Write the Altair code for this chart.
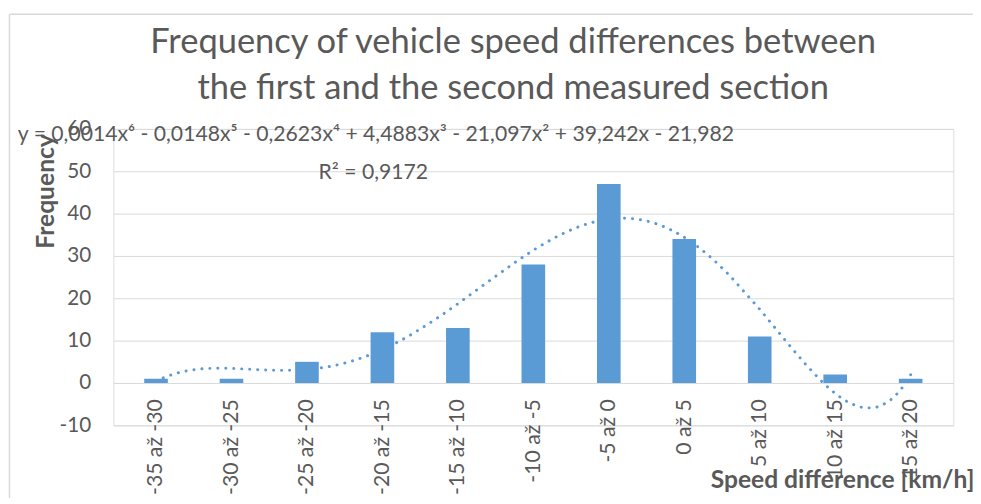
import altair as alt
import pandas as pd

labels = ["-35 až -30", "-30 až -25", "-25 až -20", "-20 až -15", "-15 až -10",
          "-10 až -5", "-5 až 0", "0 až 5", "5 až 10", "10 až 15", "15 až 20"]
freq = [1, 1, 5, 12, 13, 28, 47, 34, 11, 2, 1]
idx = list(range(1, len(labels) + 1))
y_ticks = [-10, 0, 10, 20, 30, 40, 50, 60]
title_lines = ["Frequency of vehicle speed differences between",
               "the first and the second measured section"]
equation = "y = 0,0014x⁶ - 0,0148x⁵ - 0,2623x⁴ + 4,4883x³ - 21,097x² + 39,242x - 21,982"
r2_text = "R² = 0,9172"

df = pd.DataFrame({"idx": idx, "label": labels, "freq": freq})

FONT = "Lato"
GRAY = "#595959"
BLUE = "#5B9BD5"

label_expr = "[" + ",".join("'" + l + "'" for l in labels) + "][datum.value - 1]"

x_enc = alt.X(
    "idx:Q",
    scale=alt.Scale(domain=[0.5, len(labels) + 0.5], nice=False, zero=False),
    axis=alt.Axis(
        values=idx, labelExpr=label_expr, labelAngle=270, offset=-43,
        ticks=False, grid=False, domainColor="#D9D9D9", domainWidth=1,
        labelPadding=16, labelFontSize=21.5, labelColor=GRAY, labelFont=FONT,
        labelOverlap=False, labelFlush=False, labelBound=False,
        title="Speed difference [km/h]", titleX=740, titleY=106,
        titleAlign="center", titleBaseline="alphabetic", titleFontSize=25,
        titleFontWeight="bold", titleColor=GRAY, titleFont=FONT,
    ),
)
y_enc = alt.Y(
    "freq:Q",
    scale=alt.Scale(domain=[-10, 60], nice=False),
    axis=alt.Axis(
        values=y_ticks, labelExpr="datum.value + ''", ticks=False, domain=False,
        gridColor="#D9D9D9",
        labelPadding=23, labelFontSize=21, labelColor=GRAY, labelFont=FONT,
        title="Frequency", titleX=-69, titleY=63, titleAngle=270,
        titleAlign="center", titleBaseline="middle", titleFontSize=25,
        titleFontWeight="bold", titleColor=GRAY, titleFont=FONT,
    ),
)

bars = alt.Chart(df).mark_bar(size=24, color=BLUE).encode(x=x_enc, y=y_enc)

trend = (
    alt.Chart(df)
    .transform_regression("idx", "freq", method="poly", order=6)
    .mark_line(color=BLUE, strokeWidth=3, strokeDash=[0.1, 8], strokeCap="round")
    .encode(x="idx:Q", y="freq:Q")
)

one = pd.DataFrame({"a": [0]})

title = alt.Chart(one).mark_text(
    text=title_lines, font=FONT, fontSize=35, color=GRAY, align="center",
    baseline="alphabetic", lineHeight=47
).encode(x=alt.value(406), y=alt.value(-77))

eq = alt.Chart(pd.DataFrame({"t": [equation]})).mark_text(
    font=FONT, fontSize=21.5, color=GRAY, align="left", baseline="middle"
).encode(x=alt.value(-97), y=alt.value(6), text="t:N")

r2 = alt.Chart(pd.DataFrame({"t": [r2_text]})).mark_text(
    font=FONT, fontSize=21.5, color=GRAY, align="center", baseline="middle"
).encode(x=alt.value(264), y=alt.value(45), text="t:N")

border_v = alt.Chart(one).mark_rule(color="#D9D9D9", strokeWidth=1.5).encode(
    x=alt.value(-105.5), y=alt.value(-116.5), y2=alt.value(430))
border_h = alt.Chart(one).mark_rule(color="#D9D9D9", strokeWidth=1.5).encode(
    x=alt.value(-105.5), x2=alt.value(1000), y=alt.value(-116.5))

chart = (
    alt.layer(border_v, border_h, bars, trend, title, eq, r2)
    .properties(
        width=853, height=301,
        padding={"left": 107, "top": 119, "right": 20, "bottom": 70},
        autosize=alt.AutoSizeParams(type="none"),
    )
    .configure_view(stroke=None)
    .configure(background="white")
)

chart.save("out.html", embed_options={"renderer": "svg", "actions": False})
